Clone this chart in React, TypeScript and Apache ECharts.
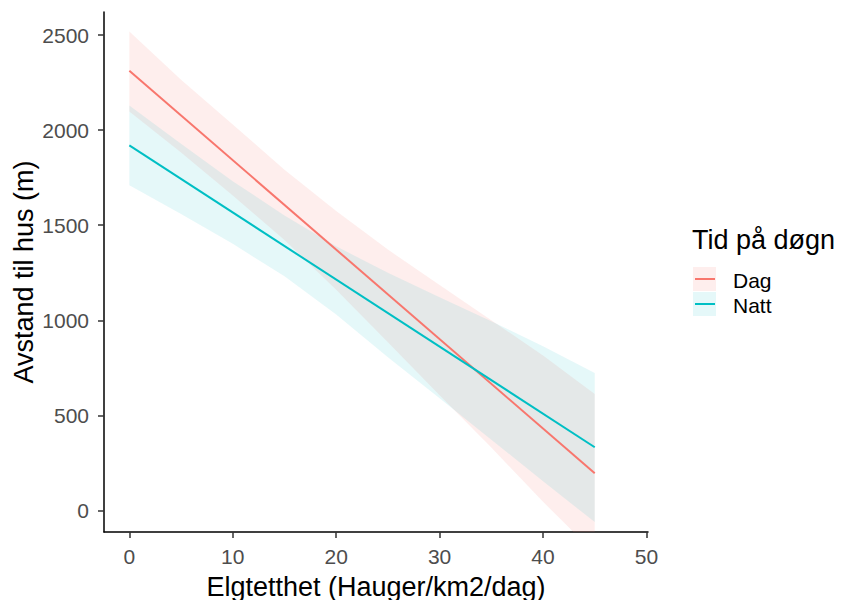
import React, { useEffect, useRef } from "react";
import * as echarts from "echarts";

// Data
const xTicks = [0, 10, 20, 30, 40, 50];
const yTicks = [0, 500, 1000, 1500, 2000, 2500];

const bandX = [0, 5, 10, 15, 20, 25, 30, 35, 40, 45];
const dagUpper = [2520, 2265, 2030, 1792, 1575, 1372, 1185, 1000, 815, 612];
const dagLower = [2098, 1883, 1657, 1422, 1160, 885, 605, 330, 45, -225];
const nattUpper = [2130, 1929, 1732, 1551, 1389, 1250, 1121, 995, 863, 722];
const nattLower = [1710, 1559, 1402, 1231, 1030, 805, 590, 372, 153, -62];

const lineX = [0, 45];
const dagLine = [2313, 195];
const nattLine = [1920, 332];

const groups = ["Dag", "Natt"];
const colors = ["#F8766D", "#00BFC4"];
const fills = ["rgba(248,118,109,0.12)", "rgba(0,191,196,0.1)"];

const FONT = "'Liberation Sans', Arial, sans-serif";

function bandSeries(name: string, upper: number[], lower: number[], fill: string) {
  return {
    type: "custom",
    name,
    clip: true,
    silent: true,
    data: bandX.map((x, i) => [x, lower[i], upper[i]]),
    encode: { x: 0, y: [1, 2] },
    renderItem: (params: any, api: any) => {
      if (params.dataIndex !== 0) return null;
      const pts: number[][] = [];
      for (let i = 0; i < bandX.length; i++) pts.push(api.coord([bandX[i], upper[i]]));
      for (let i = bandX.length - 1; i >= 0; i--) pts.push(api.coord([bandX[i], lower[i]]));
      return { type: "polygon", shape: { points: pts }, style: { fill, stroke: null } };
    },
  };
}

function lineSeries(name: string, vals: number[], color: string) {
  return {
    type: "line",
    name,
    data: lineX.map((x, i) => [x, vals[i]]),
    showSymbol: false,
    symbol: "none",
    clip: true,
    lineStyle: { color, width: 2 },
    silent: true,
  };
}

export default function App() {
  const ref = useRef<HTMLDivElement>(null);
  useEffect(() => {
    if (!ref.current) return;
    const chart = echarts.init(ref.current, undefined, { renderer: "svg" });
    const legendX = 693;
    const keyY = [267, 292];
    const option: any = {
      animation: false,
      textStyle: { fontFamily: FONT },
      grid: { left: 104, right: 194, top: 12, bottom: 68, containLabel: false, outerBoundsMode: "none" },
      xAxis: {
        type: "value",
        min: -2.45,
        max: 50.15,
        name: "Elgtetthet (Hauger/km2/dag)",
        nameLocation: "middle",
        nameGap: 41,
        nameMoveOverlap: false,
        nameTextStyle: { fontSize: 27, color: "#000", fontFamily: FONT },
        axisLine: { show: true, onZero: false, lineStyle: { color: "#000", width: 1.5 } },
        axisTick: { show: true, length: 6, customValues: xTicks, lineStyle: { color: "#333", width: 1.5 } },
        axisLabel: {
          customValues: xTicks,
          fontSize: 21,
          color: "#4D4D4D",
          margin: 14,
          fontFamily: FONT,
          formatter: (v: number) => String(v),
        },
        splitLine: { show: false },
      },
      yAxis: {
        type: "value",
        min: -114,
        max: 2622,
        name: "Avstand til hus (m)",
        nameLocation: "middle",
        nameGap: 67,
        nameMoveOverlap: false,
        nameTextStyle: { fontSize: 27, color: "#000", fontFamily: FONT },
        axisLine: { show: true, onZero: false, lineStyle: { color: "#000", width: 1.5 } },
        axisTick: { show: true, length: 6, customValues: yTicks, lineStyle: { color: "#333", width: 1.5 } },
        axisLabel: {
          customValues: yTicks,
          fontSize: 21,
          color: "#4D4D4D",
          margin: 15,
          fontFamily: FONT,
          formatter: (v: number) => String(v),
        },
        splitLine: { show: false },
      },
      series: [
        bandSeries("Dag band", dagUpper, dagLower, fills[0]),
        lineSeries("Dag", dagLine, colors[0]),
        bandSeries("Natt band", nattUpper, nattLower, fills[1]),
        lineSeries("Natt", nattLine, colors[1]),
      ],
      graphic: [
        {
          type: "text",
          left: 692,
          top: 226,
          style: { text: "Tid på døgn", fontSize: 27, fill: "#000", fontFamily: FONT },
        },
        ...groups.flatMap((g, i) => [
          {
            type: "rect",
            shape: { x: legendX, y: keyY[i], width: 23, height: 24 },
            style: { fill: fills[i], stroke: null },
          },
          {
            type: "line",
            shape: { x1: legendX + 2, y1: keyY[i] + 12, x2: legendX + 22, y2: keyY[i] + 12 },
            style: { stroke: colors[i], lineWidth: 2 },
          },
          {
            type: "text",
            x: 733,
            y: keyY[i] + 13.5,
            style: { text: g, fontSize: 21, fill: "#000", fontFamily: FONT, verticalAlign: "middle", align: "left" },
          },
        ]),
      ],
    };
    chart.setOption(option);
    return () => chart.dispose();
  }, []);
  return (
    <div
      ref={ref}
      style={{ position: "fixed", left: 0, top: 0, width: 842, height: 600, background: "#fff" }}
    />
  );
}
